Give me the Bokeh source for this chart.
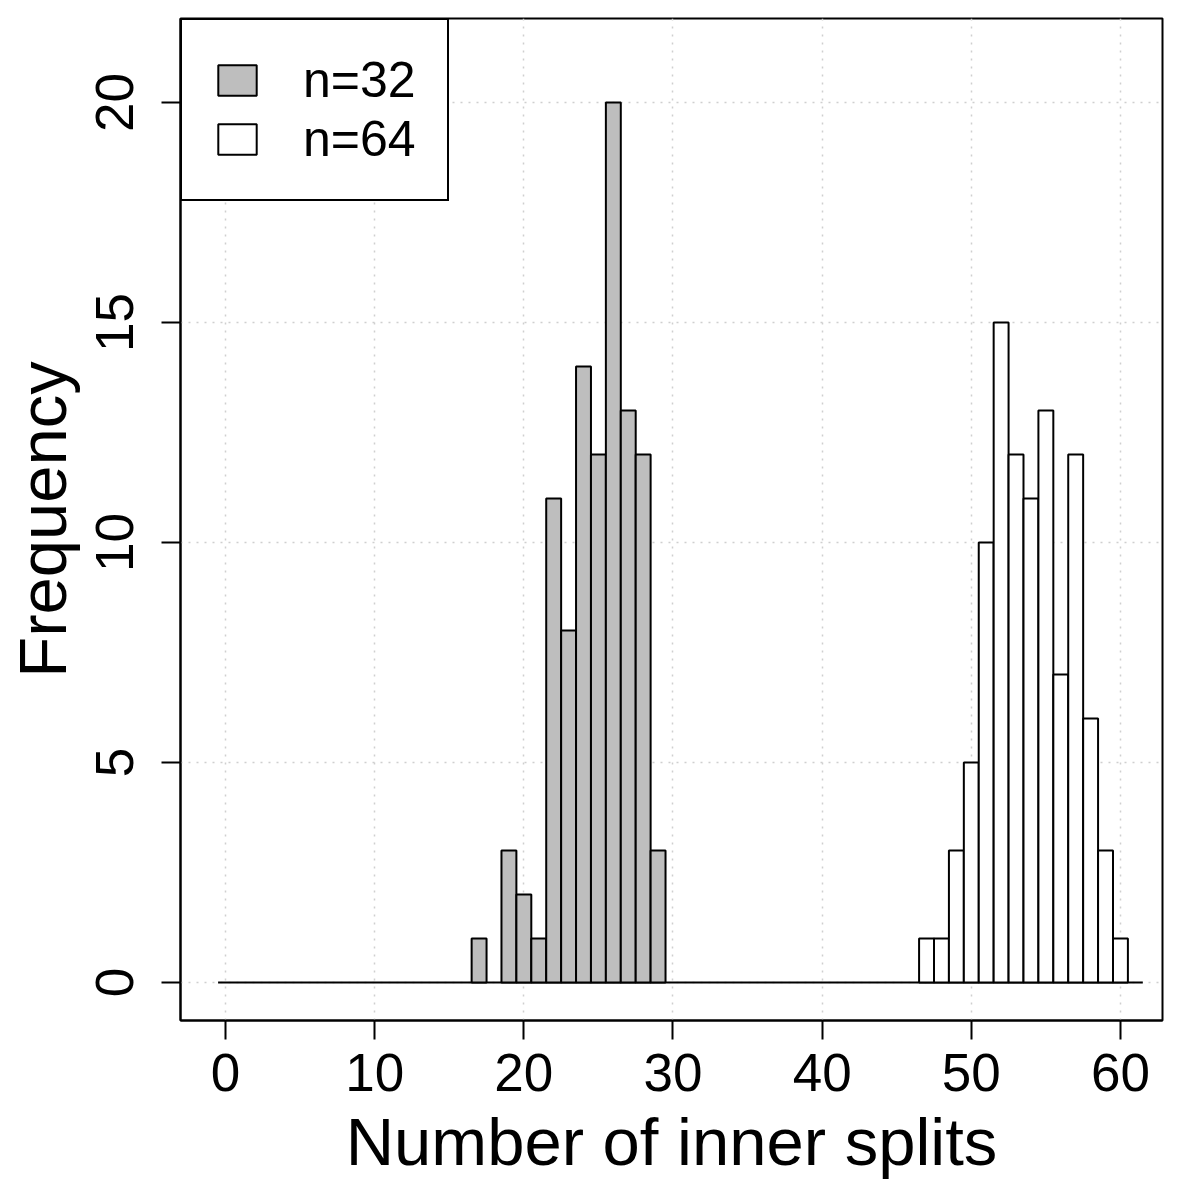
import numpy as np
from bokeh.plotting import figure
from bokeh.models import Legend, LegendItem, FixedTicker, Range1d
from bokeh.embed import file_html
from bokeh.resources import INLINE

# Histogram data (bin centers and counts)
n32_centers = [17, 18, 19, 20, 21, 22, 23, 24, 25, 26, 27, 28, 29]
n32_counts = [1, 0, 3, 2, 1, 11, 8, 14, 12, 20, 13, 12, 3]
n64_centers = [47, 48, 49, 50, 51, 52, 53, 54, 55, 56, 57, 58, 59, 60]
n64_counts = [1, 1, 3, 5, 10, 15, 12, 11, 13, 7, 12, 6, 3, 1]
bin_width = 1.0
hist_range = [-0.5, 61.5]
x_ticks = [0, 10, 20, 30, 40, 50, 60]
y_ticks = [0, 5, 10, 15, 20]
series_labels = ["n=32", "n=64"]

FONT = "Liberation Sans"

p = figure(width=1184, height=1184, output_backend="svg", toolbar_location=None,
           x_range=Range1d(-3.02, 62.82), y_range=Range1d(-0.864, 21.91),
           min_border_left=180, min_border_right=22, min_border_top=18, min_border_bottom=164)

p.background_fill_color = "white"
p.border_fill_color = "white"
p.outline_line_color = "black"
p.outline_line_width = 2

# grid
for g in (p.xgrid, p.ygrid):
    g.grid_line_color = "#cfcfcf"
    g.grid_line_dash = "2 6"
    g.grid_line_width = 1.5
p.xgrid.ticker = FixedTicker(ticks=x_ticks)
p.ygrid.ticker = FixedTicker(ticks=y_ticks)

# baseline
p.line(x=hist_range, y=[0, 0], line_color="black", line_width=2)

def nonzero(c, v):
    c = np.array(c, dtype=float); v = np.array(v, dtype=float)
    m = v > 0
    return c[m], v[m]

c32, v32 = nonzero(n32_centers, n32_counts)
c64, v64 = nonzero(n64_centers, n64_counts)

r32 = p.quad(left=c32 - bin_width / 2, right=c32 + bin_width / 2, bottom=0, top=v32,
             fill_color="#bebebe", line_color="black", line_width=2)
r64 = p.quad(left=c64 - bin_width / 2, right=c64 + bin_width / 2, bottom=0, top=v64,
             fill_color="white", line_color="black", line_width=2)

# axes
p.xaxis.ticker = FixedTicker(ticks=x_ticks)
p.yaxis.ticker = FixedTicker(ticks=y_ticks)
for ax in (p.xaxis[0], p.yaxis[0]):
    ax.axis_line_color = "black"
    ax.axis_line_width = 2
    ax.major_tick_line_color = "black"
    ax.major_tick_line_width = 2
    ax.major_tick_out = 19
    ax.major_tick_in = 0
    ax.minor_tick_line_color = None
    ax.major_label_text_font = FONT
    ax.major_label_text_font_size = "53px"
    ax.major_label_text_color = "black"
    ax.axis_label_text_font = FONT
    ax.axis_label_text_font_size = "67px"
    ax.axis_label_text_font_style = "normal"
    ax.axis_label_text_color = "black"

p.xaxis.axis_label = "Number of inner splits"
p.yaxis.axis_label = "Frequency"
p.xaxis.major_label_standoff = 14
p.xaxis.axis_label_standoff = 10
p.yaxis.major_label_orientation = "vertical"
p.yaxis.major_label_standoff = 28
p.yaxis.axis_label_standoff = 14

legend = Legend(items=[LegendItem(label=series_labels[0], renderers=[r32]),
                       LegendItem(label=series_labels[1], renderers=[r64])],
                location="top_left")
legend.margin = 0
legend.padding = 31
legend.spacing = 1
legend.glyph_width = 48
legend.glyph_height = 38
legend.label_standoff = 42
legend.label_text_font = FONT
legend.label_text_font_size = "50px"
legend.label_text_color = "black"
legend.label_height = 45
legend.border_line_color = "black"
legend.border_line_width = 2
legend.border_line_alpha = 1
legend.background_fill_color = "white"
legend.background_fill_alpha = 1
p.add_layout(legend)

open("out.html", "w").write(file_html(p, INLINE))
